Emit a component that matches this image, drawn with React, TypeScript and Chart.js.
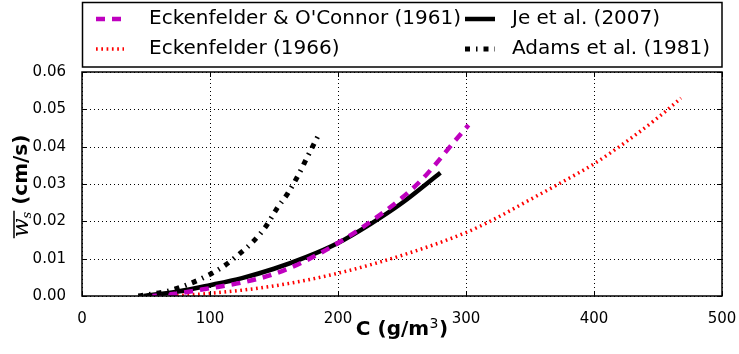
import React, { useEffect, useRef } from "react";
import { Chart, registerables } from "chart.js";
Chart.register(...registerables);

const xTicks = [0, 100, 200, 300, 400, 500];
const yTicks = [0, 0.01, 0.02, 0.03, 0.04, 0.05, 0.06];

const ecoC = [55, 75, 100, 125, 150, 175, 200, 225, 250, 265, 275, 290, 302];
const ecoW = [0, 0.0007, 0.0021, 0.0036, 0.0059, 0.0095, 0.0142, 0.0198, 0.0263, 0.031, 0.0348, 0.041, 0.0458];

const eckC = [70, 100, 150, 200, 250, 300, 321, 350, 375, 400, 425, 450, 468];
const eckW = [0, 0.0007, 0.0027, 0.0061, 0.0109, 0.017, 0.0204, 0.0258, 0.0305, 0.0354, 0.0413, 0.0478, 0.053];

const jeC = [48, 75, 100, 125, 150, 175, 200, 225, 250, 280];
const jeW = [0, 0.0012, 0.0029, 0.0048, 0.0073, 0.0104, 0.0142, 0.0192, 0.0249, 0.033];

const adC = [44, 67, 82, 96, 110, 122, 134, 144, 152, 161, 169, 176, 184];
const adW = [0, 0.0013, 0.003, 0.0051, 0.0078, 0.011, 0.0147, 0.0188, 0.0233, 0.0276, 0.0324, 0.0372, 0.0426];

const labels = ["Eckenfelder & O'Connor (1961)", "Eckenfelder (1966)", "Je et al. (2007)", "Adams et al. (1981)"];

const styles = [
  { color: "#bf00bf", width: 4.5, dash: [9, 7] },
  { color: "#ff0000", width: 3.5, dash: [1.7, 3.6] },
  { color: "#000000", width: 4.5, dash: [] as number[] },
  { color: "#000000", width: 5, dash: [5, 6, 1.5, 6] },
];

const FONT = "DejaVu Sans";

const toPts = (xs: number[], ys: number[]) => xs.map((x, i) => ({ x, y: ys[i] }));

const seg = (ctx: CanvasRenderingContext2D, x1: number, y1: number, x2: number, y2: number) => {
  ctx.beginPath();
  ctx.moveTo(x1, y1);
  ctx.lineTo(x2, y2);
  ctx.stroke();
};

const gridPlugin = {
  id: "gridDots",
  beforeDatasetsDraw(chart: any) {
    const { ctx, chartArea: a, scales } = chart;
    ctx.save();
    ctx.strokeStyle = "#000";
    ctx.lineWidth = 1;
    ctx.setLineDash([1, 3]);
    xTicks.forEach((v) => {
      const px = Math.round(scales.x.getPixelForValue(v)) + 0.5;
      seg(ctx, px, a.bottom, px, a.top);
    });
    yTicks.forEach((v) => {
      const py = Math.round(scales.y.getPixelForValue(v)) + 0.5;
      seg(ctx, a.left, py, a.right, py);
    });
    ctx.restore();
  },
};

const decor = {
  id: "decor",
  afterDraw(chart: any) {
    const { ctx, chartArea: a, scales } = chart;
    ctx.save();
    ctx.strokeStyle = "#000";
    ctx.lineWidth = 1;
    ctx.setLineDash([]);
    xTicks.forEach((v) => {
      const px = Math.round(scales.x.getPixelForValue(v)) + 0.5;
      seg(ctx, px, a.bottom, px, a.bottom - 5);
      seg(ctx, px, a.top, px, a.top + 5);
    });
    yTicks.forEach((v) => {
      const py = Math.round(scales.y.getPixelForValue(v)) + 0.5;
      seg(ctx, a.left, py, a.left + 5, py);
      seg(ctx, a.right, py, a.right - 5, py);
    });
    ctx.lineWidth = 1.5;
    ctx.strokeRect(a.left, a.top, a.right - a.left, a.bottom - a.top);

    // legend
    ctx.lineWidth = 1.5;
    ctx.strokeRect(a.left + 0.5, 2.5, a.right - a.left - 0.5, 64.5);
    const cols = [
      { lineX: 96, len: 28, textX: 149 },
      { lineX: 465, len: 30, textX: 512 },
    ];
    const rows = [19, 49];
    ctx.font = `20px "${FONT}"`;
    ctx.textBaseline = "middle";
    ctx.textAlign = "left";
    labels.forEach((lab, i) => {
      const c = cols[Math.floor(i / 2)];
      const r = rows[i % 2];
      const s = styles[i];
      ctx.strokeStyle = s.color;
      ctx.lineWidth = s.width;
      ctx.setLineDash(s.dash);
      seg(ctx, c.lineX, r, c.lineX + c.len, r);
      ctx.setLineDash([]);
      ctx.fillStyle = "#000";
      ctx.fillText(lab, c.textX, r);
    });

    // x title
    ctx.fillStyle = "#000";
    ctx.textBaseline = "alphabetic";
    ctx.textAlign = "left";
    const bold = `bold 20px "${FONT}"`;
    const sup = `14px "${FONT}"`;
    ctx.font = bold;
    const p1 = "C (g/m";
    const w1 = ctx.measureText(p1).width;
    const w3 = ctx.measureText(")").width;
    ctx.font = sup;
    const w2 = ctx.measureText("3").width + 1;
    const xt = (a.left + a.right) / 2 - (w1 + w2 + w3) / 2;
    const yb = 335;
    ctx.font = bold;
    ctx.fillText(p1, xt, yb);
    ctx.font = sup;
    ctx.fillText("3", xt + w1 + 0.5, yb - 7);
    ctx.font = bold;
    ctx.fillText(")", xt + w1 + w2, yb);

    // y title
    ctx.save();
    ctx.translate(28, 186);
    ctx.rotate(-Math.PI / 2);
    ctx.textAlign = "left";
    ctx.textBaseline = "alphabetic";
    const wFont = `italic 22px "DejaVu Serif"`;
    const sFont = `italic 13px "DejaVu Serif"`;
    const tFont = `bold 20px "${FONT}"`;
    ctx.font = wFont;
    const ww = ctx.measureText("w").width;
    ctx.font = sFont;
    const sw = ctx.measureText("s").width;
    ctx.font = tFont;
    const tw = ctx.measureText(" (cm/s)").width;
    const total = ww + sw + tw;
    const x0 = -total / 2;
    const base = 0;
    ctx.font = wFont;
    ctx.fillText("w", x0, base);
    ctx.font = sFont;
    ctx.fillText("s", x0 + ww, base + 3);
    ctx.lineWidth = 1.5;
    ctx.strokeStyle = "#000";
    seg(ctx, x0 - 1, base - 14, x0 + ww + sw + 1, base - 14);
    ctx.font = tFont;
    ctx.fillText(" (cm/s)", x0 + ww + sw, base - 1);
    ctx.restore();

    ctx.restore();
  },
};

export default function App() {
  const ref = useRef<HTMLCanvasElement>(null);
  useEffect(() => {
    if (!ref.current) return;
    Chart.defaults.font.family = FONT;
    const series = [toPts(ecoC, ecoW), toPts(eckC, eckW), toPts(jeC, jeW), toPts(adC, adW)];
    const chart = new Chart(ref.current, {
      type: "line",
      data: {
        datasets: series.map((d, i) => ({
          label: labels[i],
          data: d,
          borderColor: styles[i].color,
          borderWidth: styles[i].width,
          borderDash: styles[i].dash,
          pointRadius: 0,
          fill: false,
          cubicInterpolationMode: "monotone" as const,
          order: [1, 3, 2, 0][i],
        })),
      },
      options: {
        responsive: false,
        animation: false,
        layout: { padding: { left: 0, top: 72, right: 17, bottom: 0 } },
        plugins: { legend: { display: false }, tooltip: { enabled: false } },
        scales: {
          x: {
            type: "linear",
            min: 0,
            max: 500,
            afterFit: (s: any) => { s.height = 58; s.paddingLeft = 0; s.paddingRight = 0; },
            afterBuildTicks: (s: any) => { s.ticks = xTicks.map((v) => ({ value: v })); },
            grid: { display: false },
            border: { display: false },
            ticks: { color: "#000", font: { size: 15 }, padding: 6, maxRotation: 0 },
          },
          y: {
            type: "linear",
            min: 0,
            max: 0.06,
            afterFit: (s: any) => { s.width = 82; s.paddingTop = 0; s.paddingBottom = 0; },
            afterBuildTicks: (s: any) => { s.ticks = yTicks.map((v) => ({ value: v })); },
            grid: { display: false },
            border: { display: false },
            ticks: { color: "#000", font: { size: 15 }, padding: 8, callback: (v: any) => Number(v).toFixed(2) },
          },
        },
      },
      plugins: [gridPlugin, decor],
    });
    return () => chart.destroy();
  }, []);
  return (
    <div style={{ position: "absolute", left: 0, top: 0, width: 739, height: 354, background: "#fff" }}>
      <canvas ref={ref} width={739} height={354} style={{ width: 739, height: 354, display: "block" }} />
    </div>
  );
}
